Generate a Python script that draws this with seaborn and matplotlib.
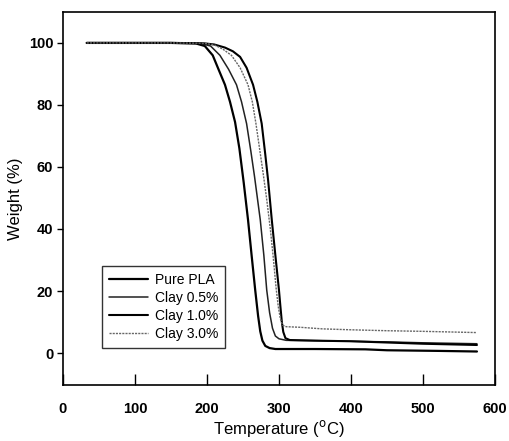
import numpy as np
import pandas as pd
import matplotlib
matplotlib.use("Agg")
import matplotlib.pyplot as plt
import seaborn as sns

# TGA curves (temperature in C, weight in %)
pla_temp = [33, 150, 185, 197, 208, 216, 225, 232, 239, 245, 251, 257, 262, 267, 271, 274,
            277, 281, 287, 295, 350, 420, 450, 520, 575]
pla_weight = [100, 100, 99.8, 99, 96, 91.5, 86.5, 81, 74.5, 66, 55, 43, 31.5, 20.3, 12, 7,
              4, 2.3, 1.6, 1.3, 1.3, 1.2, 0.9, 0.7, 0.5]

clay05_temp = [33, 150, 190, 205, 218, 230, 241, 248, 255, 261, 266, 270, 274, 279, 283, 287,
               291, 295, 300, 310, 350, 400, 450, 500, 575]
clay05_weight = [100, 100, 99.9, 99, 96, 91.5, 86.5, 81, 74, 65, 57, 50, 43, 31.5, 20.3, 13,
                 8, 5.5, 4.6, 4.1, 4.0, 3.8, 3.6, 3.3, 3.0]

clay10_temp = [33, 150, 195, 210, 225, 236, 246, 255, 264, 270, 276, 281, 285, 290, 295, 300,
               302, 304, 306, 309, 315, 350, 400, 450, 500, 575]
clay10_weight = [100, 100, 99.9, 99.5, 98.5, 97.3, 95.5, 92, 86.5, 81, 74, 64, 55.5, 43, 31.5, 20.3,
                 15, 10, 6.8, 4.8, 4.2, 4.0, 3.8, 3.4, 3.0, 2.6]

clay30_temp = [33, 150, 195, 210, 222, 234, 246, 257, 263, 268, 273, 278, 283, 288, 292, 296,
               299, 302, 305, 310, 330, 360, 400, 450, 500, 575]
clay30_weight = [100, 100, 99.9, 99.4, 98, 96, 92, 86.5, 81, 74, 66, 58, 49.5, 40, 31, 21,
                 15, 11, 9, 8.5, 8.3, 7.8, 7.5, 7.2, 7.0, 6.6]

series = [
    ("Pure PLA", pla_temp, pla_weight, dict(color="black", lw=1.6, ls="-")),
    ("Clay 0.5%", clay05_temp, clay05_weight, dict(color="#222222", lw=1.1, ls="-")),
    ("Clay 1.0%", clay10_temp, clay10_weight, dict(color="black", lw=1.5, ls="-")),
    ("Clay 3.0%", clay30_temp, clay30_weight, dict(color="#666666", lw=1.0, ls=(0, (1.5, 0.8)))),
]

sns.set_style("ticks")
plt.rcParams["font.family"] = ["Liberation Sans", "DejaVu Sans"]
plt.rcParams["text.color"] = "black"
plt.rcParams["axes.labelcolor"] = "black"
plt.rcParams["xtick.color"] = "black"
plt.rcParams["ytick.color"] = "black"

fig = plt.figure(figsize=(5.1, 4.41), dpi=100)
ax = fig.add_axes([0.1235, 0.127, 0.847, 0.846])

for name, temp, weight, style in series:
    df = pd.DataFrame({"Temperature": temp, "Weight": weight})
    sns.lineplot(data=df, x="Temperature", y="Weight", ax=ax, label=name,
                 color=style["color"], linewidth=style["lw"], linestyle=style["ls"],
                 estimator=None, sort=False)

ax.set_xlim(0, 600)
ax.set_ylim(-10.3, 110)
ax.set_xticks(np.arange(0, 601, 100))
ax.set_yticks(np.arange(0, 101, 20))
ax.tick_params(axis="x", direction="in", length=8, width=1, labelsize=10.5, pad=12)
ax.tick_params(axis="y", direction="out", length=4, width=1, labelsize=10.5, pad=3)
for lab in ax.get_xticklabels() + ax.get_yticklabels():
    lab.set_fontweight("bold")
for sp in ax.spines.values():
    sp.set_visible(True)
    sp.set_linewidth(1.2)
    sp.set_color("black")

ax.set_xlabel(r"Temperature ($^{\rm o}$C)", fontsize=12, labelpad=2)
ax.set_ylabel("Weight (%)", fontsize=12, labelpad=4)

leg = ax.legend(loc="lower left", bbox_to_anchor=(0.075, 0.08), frameon=True,
                fancybox=False, edgecolor="black", fontsize=10, handlelength=2.8,
                handletextpad=0.5, labelspacing=0.3, borderpad=0.5)
leg.get_frame().set_linewidth(1.0)

fig.savefig("out.png", dpi=100)
